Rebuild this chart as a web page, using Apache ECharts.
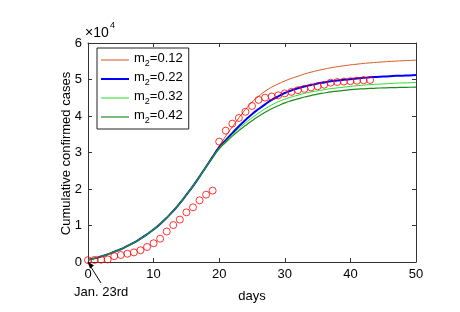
<!DOCTYPE html>
<html>
<head>
<meta charset="utf-8">
<script src="https://cdn.jsdelivr.net/npm/echarts@6/dist/echarts.min.js"></script>
<style>html,body{margin:0;padding:0;background:#fff;}#c{width:460px;height:312px;}</style>
</head>
<body>
<div id="c"></div>
<script>
// days (x) for model curves 0..50
var days = [0,1,2,3,4,5,6,7,8,9,10,11,12,13,14,15,16,17,18,19,20,21,22,23,24,25,26,27,28,29,30,
  31,32,33,34,35,36,37,38,39,40,41,42,43,44,45,46,47,48,49,50];
var xTicks = [0, 10, 20, 30, 40, 50];
var yTicks = [0, 1, 2, 3, 4, 5, 6];
var m2Values = ['0.12', '0.22', '0.32', '0.42'];
var seriesNames = ['m2=0.12', 'm2=0.22', 'm2=0.32', 'm2=0.42'];
var yAxisTitle = 'Cumulative confirmed cases';

// model curves, cumulative cases in units of 10^4 (day 0..50)
var model012 = [0.06,0.10,0.15,0.21,0.28,0.35,0.44,0.53,0.64,0.76,0.89,1.04,1.21,1.40,1.61,1.84,2.08,2.34,2.62,2.90,
  3.18,3.45,3.70,3.95,4.18,4.38,4.54,4.68,4.79,4.88,4.96,5.03,5.09,5.15,5.20,5.245,5.285,5.32,5.35,5.375,
  5.40,5.42,5.44,5.455,5.47,5.483,5.495,5.505,5.514,5.522,5.53];
var model022 = [0.06,0.10,0.15,0.21,0.28,0.35,0.44,0.53,0.64,0.76,0.89,1.04,1.21,1.40,1.61,1.84,2.08,2.34,2.61,2.88,
  3.14,3.34,3.53,3.72,3.89,4.05,4.19,4.32,4.44,4.54,4.63,4.70,4.76,4.81,4.85,4.89,4.92,4.95,4.97,4.99,
  5.01,5.03,5.045,5.06,5.07,5.08,5.09,5.10,5.105,5.11,5.12];
var model032 = [0.06,0.10,0.15,0.21,0.28,0.35,0.44,0.53,0.64,0.76,0.89,1.04,1.21,1.40,1.61,1.84,2.08,2.34,2.61,2.87,
  3.12,3.31,3.49,3.66,3.81,3.95,4.08,4.20,4.30,4.39,4.46,4.52,4.57,4.62,4.66,4.69,4.72,4.75,4.77,4.79,
  4.81,4.83,4.845,4.86,4.87,4.88,4.89,4.90,4.905,4.91,4.92];
var model042 = [0.06,0.10,0.15,0.21,0.28,0.35,0.44,0.53,0.64,0.76,0.89,1.04,1.21,1.40,1.61,1.84,2.08,2.34,2.60,2.86,
  3.10,3.28,3.45,3.60,3.74,3.87,3.99,4.10,4.20,4.28,4.36,4.42,4.47,4.52,4.56,4.60,4.63,4.66,4.68,4.70,
  4.72,4.735,4.745,4.755,4.763,4.77,4.775,4.78,4.785,4.788,4.79];

// observed cumulative confirmed cases (units of 10^4), day 0 = Jan. 23rd
var obsDays = [0,1,2,3,4,5,6,7,8,9,10,11,12,13,14,15,16,17,18,19,20,21,22,23,24,25,26,27,28,29,30,31,32,33,34,35,36,37,38,39,40,41,42,43];
var observed = [0.050,0.057,0.062,0.070,0.159,0.191,0.226,0.264,0.322,0.411,0.514,0.638,0.835,1.012,1.162,1.360,1.498,1.690,1.845,1.956,
  3.299,3.599,3.791,3.946,4.115,4.275,4.441,4.503,4.535,4.566,4.620,4.661,4.707,4.744,4.782,4.814,4.856,4.912,4.932,4.943,
  4.954,4.967,4.980,4.987];

var colors = ['#D95319', '#0000FF', '#22DD22', '#1E8A1E'];
var widths = [1, 2, 1, 1.2];
var legendIcons = ['path://M0,0H28V1H0Z', 'path://M0,0H14V1H0Z', 'path://M0,0H28V1H0Z', 'path://M0,0H24V1H0Z'];
var FONT = 'Liberation Sans, Arial, Helvetica, sans-serif';

var chart = echarts.init(document.getElementById('c'), null, {renderer: 'canvas'});

function pairs(xs, ys) { return xs.map(function (x, i) { return [x, ys[i]]; }); }
var models = [model012, model022, model032, model042];

var series = models.map(function (arr, i) {
  return {
    name: seriesNames[i], type: 'line', data: pairs(days, arr), symbol: 'none', smooth: true,
    lineStyle: {color: colors[i], width: widths[i]}, itemStyle: {color: colors[i]}, z: 2, animation: false
  };
});
series.push({
  name: 'observed', type: 'scatter', data: pairs(obsDays, observed), symbol: 'circle', symbolSize: 7,
  itemStyle: {color: 'rgba(0,0,0,0)', borderColor: '#FF0000', borderWidth: 1}, z: 3, animation: false
});

var axisCommon = {
  min: 0, axisLine: {show: true, onZero: false, lineStyle: {color: '#333', width: 1}},
  axisTick: {show: true, inside: true, length: 4, lineStyle: {color: '#333'}},
  splitLine: {show: false}
};

chart.setOption({
  animation: false,
  color: colors,
  grid: {left: 88, right: 44, top: 43, bottom: 50, containLabel: false},
  xAxis: [
    Object.assign({}, axisCommon, {type: 'value', position: 'bottom', max: xTicks[xTicks.length - 1], interval: 10,
      name: 'days', nameLocation: 'middle', nameGap: 28,
      nameTextStyle: {fontFamily: FONT, fontSize: 13, color: '#000'},
      axisLabel: {fontFamily: FONT, fontSize: 13, color: '#000', margin: 6}}),
    Object.assign({}, axisCommon, {type: 'value', position: 'top', max: xTicks[xTicks.length - 1], interval: 10,
      axisLabel: {show: false}})
  ],
  yAxis: [
    Object.assign({}, axisCommon, {type: 'value', position: 'left', max: yTicks[yTicks.length - 1], interval: 1,
      axisLabel: {fontFamily: FONT, fontSize: 13, color: '#000', margin: 6}}),
    Object.assign({}, axisCommon, {type: 'value', position: 'right', max: yTicks[yTicks.length - 1], interval: 1,
      axisLabel: {show: false}})
  ],
  legend: {
    data: seriesNames.map(function (n, i) { return {name: n, icon: legendIcons[i]}; }),
    orient: 'vertical', left: 97, top: 48, itemWidth: 28, itemHeight: 10, itemGap: 3,
    padding: [4, 6, 4, 4], borderColor: '#222', borderWidth: 1, backgroundColor: '#fff',
    formatter: function (name) {
      var i = seriesNames.indexOf(name);
      return '{a|m}{s|2}{a|=' + m2Values[i] + '}';
    },
    textStyle: {
      fontFamily: FONT, color: '#000',
      rich: {
        a: {fontFamily: FONT, fontSize: 13, lineHeight: 14, verticalAlign: 'top', color: '#000'},
        s: {fontFamily: FONT, fontSize: 9, padding: [7, 0, 0, 0], verticalAlign: 'top', color: '#000'}
      }
    }
  },
  series: series
});

var o = chart.convertToPixel({gridIndex: 0}, [0, 0]);
var topLeft = chart.convertToPixel({gridIndex: 0}, [0, 6]);
chart.setOption({
  graphic: [
    {type: 'text', x: o[0] - 22, y: (o[1] + topLeft[1]) / 2 + 1, rotation: Math.PI / 2,
      style: {text: yAxisTitle, font: '13px ' + FONT, fill: '#000', align: 'center', verticalAlign: 'middle'}},
    {type: 'text', left: topLeft[0] - 3, top: topLeft[1] - 17,
      style: {text: '×10', font: '14px ' + FONT, fill: '#000'}},
    {type: 'text', left: topLeft[0] + 22, top: topLeft[1] - 22,
      style: {text: '4', font: '9px ' + FONT, fill: '#000'}},
    {type: 'line', shape: {x1: o[0] + 13, y1: o[1] + 21, x2: o[0] + 1, y2: o[1] + 2},
      style: {stroke: '#000', lineWidth: 1}, z: 10},
    {type: 'polygon', shape: {points: [[o[0] - 0.5, o[1] - 0.5], [o[0] + 6, o[1] + 3.5], [o[0] + 2, o[1] + 6.5]]},
      style: {fill: '#000'}, z: 10},
    {type: 'text', left: o[0] - 14, top: o[1] + 24,
      style: {text: 'Jan. 23rd', font: '13px ' + FONT, fill: '#000'}}
  ]
});
</script>
</body>
</html>
